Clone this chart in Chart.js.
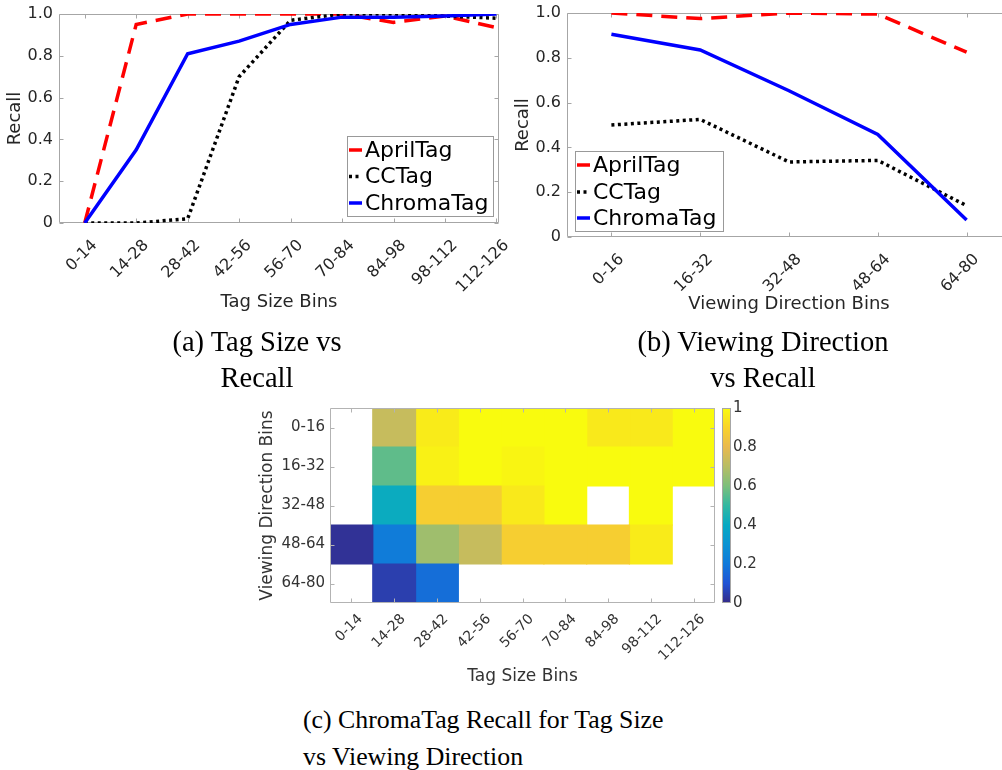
<!DOCTYPE html>
<html>
<head>
<meta charset="utf-8">
<script src="https://cdn.jsdelivr.net/npm/chart.js@4.4.1/dist/chart.umd.min.js"></script>
<style>
  html, body { margin: 0; padding: 0; width: 1002px; height: 770px; overflow: hidden; background: #fff; }
  canvas { position: absolute; }
  .pie { position: absolute; font-family: 'Liberation Serif', 'Times New Roman', serif; color: #000; white-space: nowrap; }
</style>
</head>
<body>
<canvas id="grafA" width="510" height="320" style="left:0px;top:0px"></canvas>
<canvas id="grafB" width="520" height="320" style="left:500px;top:0px"></canvas>
<canvas id="mapaC" width="520" height="300" style="left:250px;top:395px"></canvas>

<div class="pie" style="left:57px;width:400px;top:324px;font-size:28.5px;line-height:36px;text-align:center">(a) Tag Size vs<br>Recall</div>
<div class="pie" style="left:563px;width:400px;top:324px;font-size:28.5px;line-height:36px;text-align:center">(b) Viewing Direction<br>vs Recall</div>
<div class="pie" style="left:303px;top:701px;font-size:25.8px;line-height:37px">(c) ChromaTag Recall for Tag Size<br>vs Viewing Direction</div>

<script>
// ------------------------------------------------------------
// Datos
// ------------------------------------------------------------
const binsTamano = ["0-14", "14-28", "28-42", "42-56", "56-70", "70-84", "84-98", "98-112", "112-126"];
const binsVista = ["0-16", "16-32", "32-48", "48-64", "64-80"];

// (a) recall por tamaño de tag
const aprilTamano  = [0, 0.95, 1.0, 1.0, 1.0, 1.0, 0.96, 0.99, 0.935];
const ccTamano     = [0, 0, 0.02, 0.70, 0.97, 1.0, 1.0, 0.99, 0.98];
const chromaTamano = [0, 0.35, 0.81, 0.87, 0.95, 0.985, 0.985, 0.99, 1.0];

// (b) recall por dirección de vista
const aprilVista  = [1.0, 0.975, 1.0, 0.995, 0.825];
const ccVista     = [0.50, 0.525, 0.335, 0.342, 0.14];
const chromaVista = [0.905, 0.835, 0.653, 0.458, 0.076];

// (c) recall de ChromaTag: filas = dirección de vista, columnas = tamaño (null = sin datos)
const recallMapa = [
  [null, 0.73, 0.96, 1.0, 1.0, 1.0, 0.955, 0.955, 1.0],
  [null, 0.56, 0.975, 1.0, 0.985, 1.0, 1.0, 1.0, 1.0],
  [null, 0.41, 0.88, 0.88, 0.955, 1.0, null, 1.0, null],
  [0.02, 0.21, 0.66, 0.73, 0.88, 0.88, 0.88, 0.96, null],
  [null, 0.05, 0.17, null, null, null, null, null, null],
];

const ticksRecall = [0, 0.2, 0.4, 0.6, 0.8, 1];
const ticksColorbar = [0, 0.2, 0.4, 0.6, 0.8, 1];

// ------------------------------------------------------------
// Estilo
// ------------------------------------------------------------
const FUENTE = "'DejaVu Sans', sans-serif";
const GRIS_TEXTO = "#262626";
const GRIS_CAJA = "#a6a6a6";

// mapa de color parula (11 paradas de 0 a 1)
const paradasParula = ["#352a87", "#2053d4", "#1079da", "#0c93d2", "#07a9c2", "#33b8a1",
                       "#7cbf7b", "#b7bd64", "#e9b94e", "#f9d32a", "#f9fb0e"];

function hexRgb(h) {
  return [parseInt(h.slice(1, 3), 16), parseInt(h.slice(3, 5), 16), parseInt(h.slice(5, 7), 16)];
}
function parula(v) {
  const n = paradasParula.length - 1;
  const t = Math.min(Math.max(v, 0), 1) * n;
  const i = Math.min(Math.floor(t), n - 1);
  const f = t - i;
  const a = hexRgb(paradasParula[i]), b = hexRgb(paradasParula[i + 1]);
  const c = a.map((x, k) => Math.round(x + (b[k] - x) * f));
  return `rgb(${c[0]},${c[1]},${c[2]})`;
}

// fija el tamaño de un eje y quita el relleno que Chart.js añade
function fijarAncho(w) {
  return s => { s.width = w; s.paddingTop = 0; s.paddingBottom = 0; s.paddingLeft = 0; s.paddingRight = 0; };
}
function fijarAlto(h) {
  return s => { s.height = h; s.paddingTop = 0; s.paddingBottom = 0; s.paddingLeft = 0; s.paddingRight = 0; };
}

// Caja estilo MATLAB con marcas hacia dentro en los cuatro lados
function dibujarCaja(chart, o) {
  const { ctx, chartArea: a } = chart;
  const x = chart.scales.x, y = chart.scales.y;
  ctx.save();
  ctx.strokeStyle = o.color;
  ctx.lineWidth = 1;
  ctx.beginPath();
  const l = Math.round(a.left) + 0.5, r = Math.round(a.right) - 0.5;
  const t = Math.round(a.top) + 0.5, b = Math.round(a.bottom) - 0.5;
  ctx.rect(l, t, r - l, b - t);
  x.ticks.forEach((_, i) => {
    const px = Math.round(x.getPixelForTick(i)) + 0.5;
    ctx.moveTo(px, b); ctx.lineTo(px, b - o.largo);
    ctx.moveTo(px, t); ctx.lineTo(px, t + o.largo);
  });
  y.ticks.forEach((_, i) => {
    const py = Math.round(y.getPixelForTick(i)) + 0.5;
    ctx.moveTo(l, py); ctx.lineTo(l + o.largo, py);
    ctx.moveTo(r, py); ctx.lineTo(r - o.largo, py);
  });
  ctx.stroke();
  ctx.restore();
}
const cajaMatlab = {
  id: "cajaMatlab",
  beforeDatasetsDraw(chart, args, o) { if (!o.encima) dibujarCaja(chart, o); },
  afterDatasetsDraw(chart, args, o) { if (o.encima) dibujarCaja(chart, o); },
};

// Leyenda en una esquina del área del gráfico
const leyendaMatlab = {
  id: "leyendaMatlab",
  afterDatasetsDraw(chart, args, o) {
    const { ctx, chartArea: a } = chart;
    const x0 = o.lado === "derecha" ? a.right - o.margenX - o.ancho : a.left + o.margenX;
    const y0 = a.bottom - o.margenY - o.alto;
    ctx.save();
    ctx.fillStyle = "#fff";
    ctx.fillRect(x0, y0, o.ancho, o.alto);
    ctx.strokeStyle = "#999";
    ctx.lineWidth = 1;
    ctx.strokeRect(Math.round(x0) + 0.5, Math.round(y0) + 0.5, o.ancho, o.alto);
    ctx.font = `22px ${FUENTE}`;
    ctx.textBaseline = "middle";
    chart.data.datasets.forEach((ds, i) => {
      const yy = y0 + o.filas[i];
      ctx.setLineDash(ds.borderDash || []);
      ctx.strokeStyle = ds.borderColor;
      ctx.lineWidth = ds.borderWidth;
      ctx.beginPath();
      ctx.moveTo(x0 + 2, yy);
      ctx.lineTo(x0 + 15, yy);
      ctx.stroke();
      ctx.setLineDash([]);
      ctx.fillStyle = "#000";
      ctx.fillText(ds.label, x0 + 18, yy + 1);
    });
    ctx.restore();
  },
};

// Barra de color a la derecha del mapa
const barraColor = {
  id: "barraColor",
  afterDraw(chart, args, o) {
    const { ctx } = chart;
    const s = chart.scales.cbar;
    const y0 = s.getPixelForValue(0), y1 = s.getPixelForValue(1);
    const x0 = s.left + o.separacion;
    const g = ctx.createLinearGradient(0, y0, 0, y1);
    paradasParula.forEach((c, i) => g.addColorStop(i / (paradasParula.length - 1), c));
    ctx.save();
    ctx.fillStyle = g;
    ctx.fillRect(x0, y1, o.ancho, y0 - y1);
    ctx.strokeStyle = GRIS_CAJA;
    ctx.lineWidth = 1;
    ctx.strokeRect(Math.round(x0) + 0.5, Math.round(y1) + 0.5, o.ancho, Math.round(y0 - y1) - 1);
    ctx.restore();
  },
};

// ------------------------------------------------------------
// Gráficos de líneas (a) y (b)
// ------------------------------------------------------------
function graficoLineas(id, etiquetas, series, c) {
  return new Chart(document.getElementById(id), {
    type: "line",
    data: {
      datasets: [
        { label: "AprilTag", data: series[0].map((v, i) => ({ x: i, y: v })), borderColor: "#ff0000",
          borderWidth: 3.5, borderDash: [16, 9], pointRadius: 0, order: 2 },
        { label: "CCTag", data: series[1].map((v, i) => ({ x: i, y: v })), borderColor: "#000000",
          borderWidth: 3.5, borderDash: [3, 3.5], pointRadius: 0, order: 1 },
        { label: "ChromaTag", data: series[2].map((v, i) => ({ x: i, y: v })), borderColor: "#0000ff",
          borderWidth: 3.5, pointRadius: 0, order: 0 },
      ],
    },
    options: {
      responsive: false,
      animation: false,
      layout: { padding: c.padding },
      scales: {
        x: {
          type: "linear", min: -0.5, max: c.xMax,
          afterBuildTicks: s => { s.ticks = etiquetas.map((_, i) => ({ value: i })); },
          afterFit: fijarAlto(c.altoX),
          grid: { display: false, drawTicks: false },
          border: { display: false },
          ticks: { autoSkip: false, minRotation: 45, maxRotation: 45, padding: 13, labelOffset: 10,
                   color: GRIS_TEXTO, font: { family: FUENTE, size: 16 }, callback: v => etiquetas[v] },
          title: { display: true, text: c.tituloX, color: GRIS_TEXTO, font: { family: FUENTE, size: 18 },
                   padding: { top: 4, bottom: 4 } },
        },
        y: {
          type: "linear", min: 0, max: 1,
          afterBuildTicks: s => { s.ticks = ticksRecall.map(v => ({ value: v })); },
          afterFit: fijarAncho(58),
          grid: { display: false, drawTicks: false },
          border: { display: false },
          ticks: { padding: 6, color: GRIS_TEXTO, font: { family: FUENTE, size: 16 },
                   callback: v => (v === 0 ? "0" : v.toFixed(1)) },
          title: { display: true, text: "Recall", color: GRIS_TEXTO, font: { family: FUENTE, size: 18 },
                   padding: { top: 4, bottom: 4 } },
        },
      },
      plugins: {
        legend: { display: false },
        tooltip: { enabled: false },
        cajaMatlab: { color: GRIS_CAJA, largo: 4, encima: false },
        leyendaMatlab: c.leyenda,
      },
    },
    plugins: [cajaMatlab, leyendaMatlab],
  });
}

graficoLineas("grafA", binsTamano, [aprilTamano, ccTamano, chromaTamano], {
  xMax: 8.05, altoX: 94, tituloX: "Tag Size Bins",
  padding: { left: 1, top: 14, right: 11, bottom: 3 },
  leyenda: { lado: "derecha", margenX: 6, margenY: 7, ancho: 146, alto: 80, filas: [14, 40.5, 67] },
});

graficoLineas("grafB", binsVista, [aprilVista, ccVista, chromaVista], {
  xMax: 4.5, altoX: 82, tituloX: "Viewing Direction Bins",
  padding: { left: 9, top: 13, right: 9, bottom: 1 },
  leyenda: { lado: "izquierda", margenX: 8, margenY: 6, ancho: 148, alto: 80, filas: [14, 41, 67] },
});

// ------------------------------------------------------------
// Mapa de calor (c): barras flotantes horizontales, una por celda
// ------------------------------------------------------------
const datasetsMapa = binsTamano.map((bin, j) => ({
  label: bin,
  data: recallMapa.map(fila => (fila[j] == null ? null : [j - 0.5, j + 0.5])),
  backgroundColor: recallMapa.map(fila => (fila[j] == null ? "rgba(0,0,0,0)" : parula(fila[j]))),
  grouped: false,
  categoryPercentage: 1,
  barPercentage: 1,
  borderWidth: 0,
  inflateAmount: 0.6,
}));

new Chart(document.getElementById("mapaC"), {
  type: "bar",
  data: { labels: binsVista, datasets: datasetsMapa },
  options: {
    indexAxis: "y",
    responsive: false,
    animation: false,
    layout: { padding: { left: 3, top: 13, right: 0, bottom: 4 } },
    scales: {
      x: {
        type: "linear", min: -0.5, max: 8.5,
        afterBuildTicks: s => { s.ticks = binsTamano.map((_, i) => ({ value: i })); },
        afterFit: fijarAlto(88),
        grid: { display: false, drawTicks: false },
        border: { display: false },
        ticks: { autoSkip: false, minRotation: 45, maxRotation: 45, padding: 8, labelOffset: 9, color: "#333",
                 font: { family: FUENTE, size: 14 }, callback: v => binsTamano[v] },
        title: { display: true, text: "Tag Size Bins", color: "#333", font: { family: FUENTE, size: 17 },
                 padding: { top: 4, bottom: 4 } },
      },
      y: {
        type: "category",
        afterFit: fijarAncho(77),
        grid: { display: false, drawTicks: false },
        border: { display: false },
        ticks: { padding: 5, color: "#333", font: { family: FUENTE, size: 15 } },
        title: { display: true, text: "Viewing Direction Bins", color: "#333",
                 font: { family: FUENTE, size: 17 }, padding: { top: 4, bottom: 4 } },
      },
      cbar: {
        type: "linear", position: "right", min: 0, max: 1, display: true, offset: false,
        afterBuildTicks: s => { s.ticks = ticksColorbar.map(v => ({ value: v })); },
        afterFit: fijarAncho(55),
        grid: { display: false, drawTicks: false, offset: false },
        border: { display: false },
        ticks: { padding: 18, color: "#333", font: { family: FUENTE, size: 15 },
                 callback: v => (v === 0 || v === 1 ? String(v) : v.toFixed(1)) },
      },
    },
    plugins: {
      legend: { display: false },
      tooltip: { enabled: false },
      cajaMatlab: { color: "#b3b3b3", largo: 4, encima: true },
      barraColor: { separacion: 7, ancho: 8 },
    },
  },
  plugins: [cajaMatlab, barraColor],
});
</script>
</body>
</html>
